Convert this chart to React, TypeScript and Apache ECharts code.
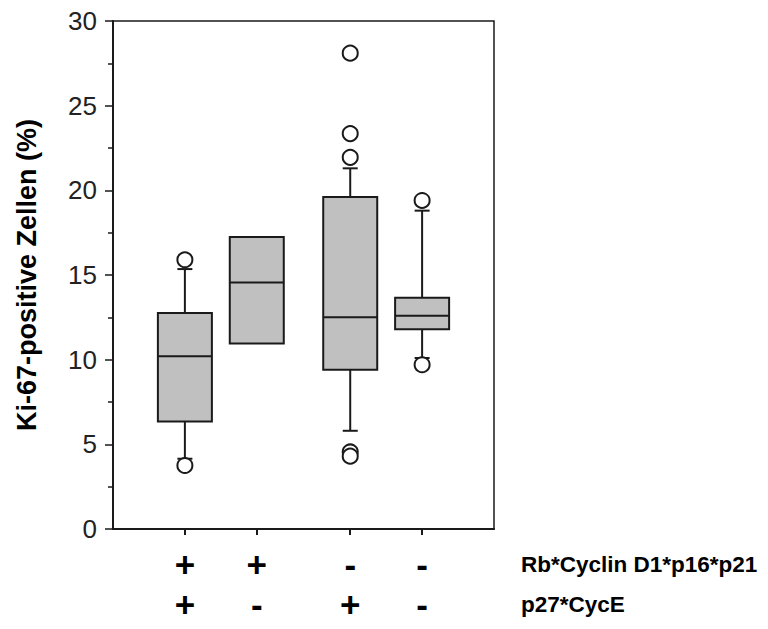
import React, { useEffect, useRef } from "react";
import * as echarts from "echarts";

// x positions of the four groups (value-axis units)
const groupPositions = [1, 2, 3.3, 4.3];
// marker rows under the chart
const rowRbLabel = "Rb*Cyclin D1*p16*p21";
const rowRbSigns = ["+", "+", "-", "-"];
const rowP27Label = "p27*CycE";
const rowP27Signs = ["+", "-", "+", "-"];

// box statistics: [lower whisker, Q1, median, Q3, upper whisker]
const lowerWhisker = [4.15, null, 5.8, 10.1];
const q1Values = [6.35, 10.95, 9.4, 11.8];
const medianValues = [10.2, 14.55, 12.5, 12.6];
const q3Values = [12.75, 17.25, 19.6, 13.65];
const upperWhisker = [15.35, null, 21.3, 18.8];

// outliers per group
const outliers = [
  [15.9, 3.75],
  [],
  [28.1, 23.35, 21.95, 4.55, 4.3],
  [19.4, 9.7],
];

const yTicks = [0, 5, 10, 15, 20, 25, 30];
const yTitle = "Ki-67-positive Zellen (%)";

const FONT = '"Liberation Sans", Arial, Helvetica, sans-serif';
const INK = "#1a1a1a";

export default function App() {
  const ref = useRef<HTMLDivElement>(null);

  useEffect(() => {
    if (!ref.current) return;
    const chart = echarts.init(ref.current, null, { renderer: "svg" });

    const boxData = groupPositions.map((x, i) => [
      x,
      lowerWhisker[i] == null ? "-" : lowerWhisker[i],
      q1Values[i],
      medianValues[i],
      q3Values[i],
      upperWhisker[i] == null ? "-" : upperWhisker[i],
    ]);

    const outlierData: number[][] = [];
    outliers.forEach((arr, i) => arr.forEach((v) => outlierData.push([groupPositions[i], v])));

    const signFormatter = (signs: string[]) => (v: number) => {
      const idx = groupPositions.findIndex((p) => Math.abs(p - v) < 1e-6);
      return idx >= 0 ? signs[idx] : "";
    };

    const boxW = 54;
    const capW = 15;

    const signAxis = (offset: number, signs: string[], name: string) => ({
      type: "value",
      min: 0,
      max: 5.3,
      position: "bottom",
      offset,
      splitLine: { show: false },
      axisLine: { show: false, onZero: false },
      axisTick: { show: false },
      axisLabel: {
        show: true,
        customValues: groupPositions,
        formatter: signFormatter(signs),
        margin: 0,
        verticalAlign: "middle",
        fontFamily: FONT,
        fontWeight: "bold",
        fontSize: 35,
        color: "#000",
      },
      name,
      nameLocation: "end",
      nameGap: 27,
      nameTextStyle: {
        fontFamily: FONT,
        fontWeight: "bold",
        fontSize: 22.5,
        color: "#000",
        align: "left",
        verticalAlign: "middle",
      },
    });

    chart.setOption({
      animation: false,
      backgroundColor: "#ffffff",
      grid: {
        left: 113,
        top: 21,
        right: 274,
        bottom: 100,
        show: true,
        borderColor: INK,
        borderWidth: 1.5,
        backgroundColor: "transparent",
      },
      xAxis: [
        {
          type: "value",
          min: 0,
          max: 5.3,
          position: "bottom",
          splitLine: { show: false },
          axisLine: { show: true, onZero: false, lineStyle: { color: INK, width: 2 } },
          axisTick: {
            show: true,
            customValues: groupPositions,
            length: 6,
            lineStyle: { color: INK, width: 2 },
          },
          axisLabel: { show: false },
        },
        signAxis(35, rowRbSigns, rowRbLabel),
        signAxis(75, rowP27Signs, rowP27Label),
      ],
      yAxis: {
        type: "value",
        min: yTicks[0],
        max: yTicks[yTicks.length - 1],
        interval: 5,
        splitLine: { show: false },
        axisLine: { show: true, lineStyle: { color: INK, width: 2 } },
        axisTick: { show: true, length: 8, lineStyle: { color: INK, width: 1.5 } },
        minorTick: { show: true, splitNumber: 2, length: 5, lineStyle: { color: INK, width: 1.5 } },
        minorSplitLine: { show: false },
        axisLabel: {
          margin: 16,
          fontFamily: FONT,
          fontSize: 26,
          color: "#222",
        },
        name: yTitle,
        nameLocation: "middle",
        nameRotate: 90,
        nameGap: 73,
        nameTextStyle: {
          fontFamily: FONT,
          fontWeight: "bold",
          fontSize: 27,
          color: "#000",
        },
      },
      series: [
        {
          type: "custom",
          xAxisIndex: 0,
          clip: false,
          data: boxData,
          encode: { x: 0, y: [1, 2, 3, 4, 5] },
          renderItem: (params: any, api: any) => {
            const x = api.value(0);
            const lo = api.value(1);
            const q1 = api.value(2);
            const med = api.value(3);
            const q3 = api.value(4);
            const hi = api.value(5);
            const pQ1 = api.coord([x, q1]);
            const pMed = api.coord([x, med]);
            const pQ3 = api.coord([x, q3]);
            const cx = pQ1[0];
            const children: any[] = [];
            const lineStyle = { stroke: INK, lineWidth: 2 };
            if (lo != null && !isNaN(lo)) {
              const pLo = api.coord([x, lo]);
              children.push({ type: "line", shape: { x1: cx, y1: pQ1[1], x2: cx, y2: pLo[1] }, style: lineStyle });
              children.push({ type: "line", shape: { x1: cx - capW / 2, y1: pLo[1], x2: cx + capW / 2, y2: pLo[1] }, style: lineStyle });
            }
            if (hi != null && !isNaN(hi)) {
              const pHi = api.coord([x, hi]);
              children.push({ type: "line", shape: { x1: cx, y1: pQ3[1], x2: cx, y2: pHi[1] }, style: lineStyle });
              children.push({ type: "line", shape: { x1: cx - capW / 2, y1: pHi[1], x2: cx + capW / 2, y2: pHi[1] }, style: lineStyle });
            }
            children.push({
              type: "rect",
              shape: { x: cx - boxW / 2, y: pQ3[1], width: boxW, height: pQ1[1] - pQ3[1] },
              style: { fill: "#c0c0c0", stroke: INK, lineWidth: 2 },
            });
            children.push({
              type: "line",
              shape: { x1: cx - boxW / 2, y1: pMed[1], x2: cx + boxW / 2, y2: pMed[1] },
              style: lineStyle,
            });
            return { type: "group", children };
          },
          z: 2,
        },
        {
          type: "scatter",
          xAxisIndex: 0,
          data: outlierData,
          symbol: "circle",
          symbolSize: 15,
          itemStyle: { color: "#ffffff", borderColor: INK, borderWidth: 2, opacity: 1 },
          z: 3,
        },
      ],
    });

    return () => chart.dispose();
  }, []);

  return (
    <div
      ref={ref}
      style={{ position: "fixed", left: 0, top: 0, width: 768, height: 629, background: "#fff" }}
    />
  );
}
